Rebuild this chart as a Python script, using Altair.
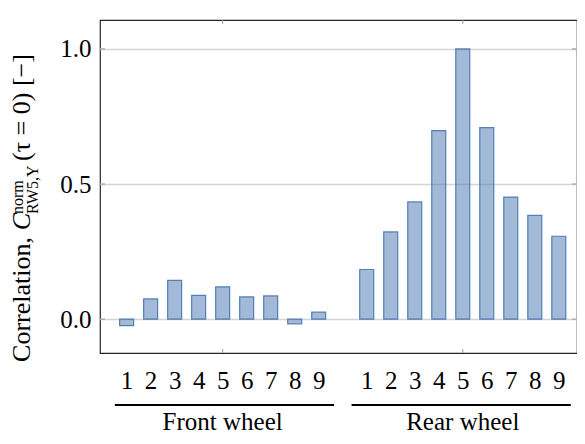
import altair as alt
import pandas as pd

# ---- data ----
wheel_numbers = [1, 2, 3, 4, 5, 6, 7, 8, 9]
front_positions = [1, 2, 3, 4, 5, 6, 7, 8, 9]
rear_positions = [11, 12, 13, 14, 15, 16, 17, 18, 19]
front_values = [-0.024, 0.075, 0.144, 0.088, 0.120, 0.083, 0.086, -0.017, 0.026]
rear_values = [0.184, 0.323, 0.434, 0.698, 1.000, 0.709, 0.452, 0.384, 0.307]
group_names = ["Front wheel", "Rear wheel"]
group_centers = [5, 15]
group_line_start = [0.51, 10.37]
group_line_end = [9.64, 19.5]
y_ticks = [0.0, 0.5, 1.0]

FONT = "Liberation Serif"
W, H = 477, 333
X_DOMAIN = [0.1, 19.55]
Y_DOMAIN = [-0.125, 1.107]

bars_df = pd.DataFrame({
    "pos": front_positions + rear_positions,
    "value": front_values + rear_values,
    "num": wheel_numbers + wheel_numbers,
})
groups_df = pd.DataFrame({
    "name": group_names,
    "center": group_centers,
    "start": group_line_start,
    "end": group_line_end,
})
ticks_df = pd.DataFrame({"value": y_ticks})
one = pd.DataFrame({"a": [0]})

xscale = alt.Scale(domain=X_DOMAIN, nice=False, zero=False)
yscale = alt.Scale(domain=Y_DOMAIN, nice=False, zero=False)
xaxis = alt.Axis(
    values=front_positions + rear_positions,
    labelExpr="datum.value > 10 ? datum.value - 10 : datum.value",
    title=None, ticks=False, domain=False, grid=False,
    labelFont=FONT, labelFontSize=25, labelColor="black", labelPadding=15,
)
yaxis = alt.Axis(
    values=y_ticks, format=".1f", title=None, ticks=False, domain=False,
    grid=True, gridColor="#d4d4d4", gridWidth=1.3,
    labelFont=FONT, labelFontSize=25, labelColor="black", labelPadding=9,
)

bars = alt.Chart(bars_df).mark_bar(
    size=14, fill="#4676b0", fillOpacity=0.5, stroke="#3f6fab",
    strokeOpacity=0.85, strokeWidth=1.2,
).encode(
    x=alt.X("pos:Q", scale=xscale, axis=xaxis, title=None),
    y=alt.Y("value:Q", scale=yscale, axis=yaxis, title=None),
    y2=alt.datum(0),
)

# short inner ticks at grid ends
left_ticks = alt.Chart(ticks_df).mark_rule(color="#a8a8a8", strokeWidth=1.3).encode(
    y=alt.Y("value:Q", scale=yscale, axis=yaxis, title=None), x=alt.value(0), x2=alt.value(5))
right_ticks = alt.Chart(ticks_df).mark_rule(color="#a8a8a8", strokeWidth=1.3).encode(
    y=alt.Y("value:Q", scale=yscale, axis=yaxis, title=None), x=alt.value(W - 5), x2=alt.value(W))
top_ticks = alt.Chart(groups_df).mark_rule(color="#999999", strokeWidth=1).encode(
    x=alt.X("center:Q", scale=xscale, axis=xaxis, title=None), y=alt.value(0), y2=alt.value(4))
bottom_ticks = alt.Chart(groups_df).mark_rule(color="#999999", strokeWidth=1).encode(
    x=alt.X("center:Q", scale=xscale, axis=xaxis, title=None), y=alt.value(H - 4), y2=alt.value(H))

group_lines = alt.Chart(groups_df).mark_rule(color="black", strokeWidth=2).encode(
    x=alt.X("start:Q", scale=xscale, axis=xaxis, title=None), x2="end:Q", y=alt.value(H + 52))
group_text = alt.Chart(groups_df).mark_text(
    font=FONT, fontSize=25, color="black", baseline="alphabetic", align="center",
).encode(
    x=alt.X("center:Q", scale=xscale, axis=xaxis, title=None), y=alt.value(H + 77), text="name:N")


def piece(txt, x, y, size, align, style="normal"):
    return alt.Chart(one).mark_text(
        text=txt, angle=270, align=align, baseline="alphabetic", font=FONT,
        fontSize=size, fontStyle=style, color="black",
    ).encode(x=alt.value(x), y=alt.value(y))


P = 193
title = (
    piece("Correlation,", -70, P + 24, 26, "right")
    + piece("C", -70, P, 26, "right", "italic")
    + piece("norm", -77, P + 1, 16, "left")
    + piece("RW5,Y", -62, P + 1, 16, "left")
    + piece("(τ = 0)  [−]", -70, P - 52, 26, "left")
)

chart = alt.layer(
    bars, left_ticks, right_ticks, top_ticks, bottom_ticks,
    group_lines, group_text, title,
).properties(
    width=W, height=H,
    padding={"left": 92, "top": 12, "right": 0, "bottom": 83},
    autosize=alt.AutoSizeParams(type="none"),
).configure_view(
    stroke="#262626", strokeWidth=1.2,
)

chart.save("out.html", embed_options={"renderer": "svg", "actions": False})
